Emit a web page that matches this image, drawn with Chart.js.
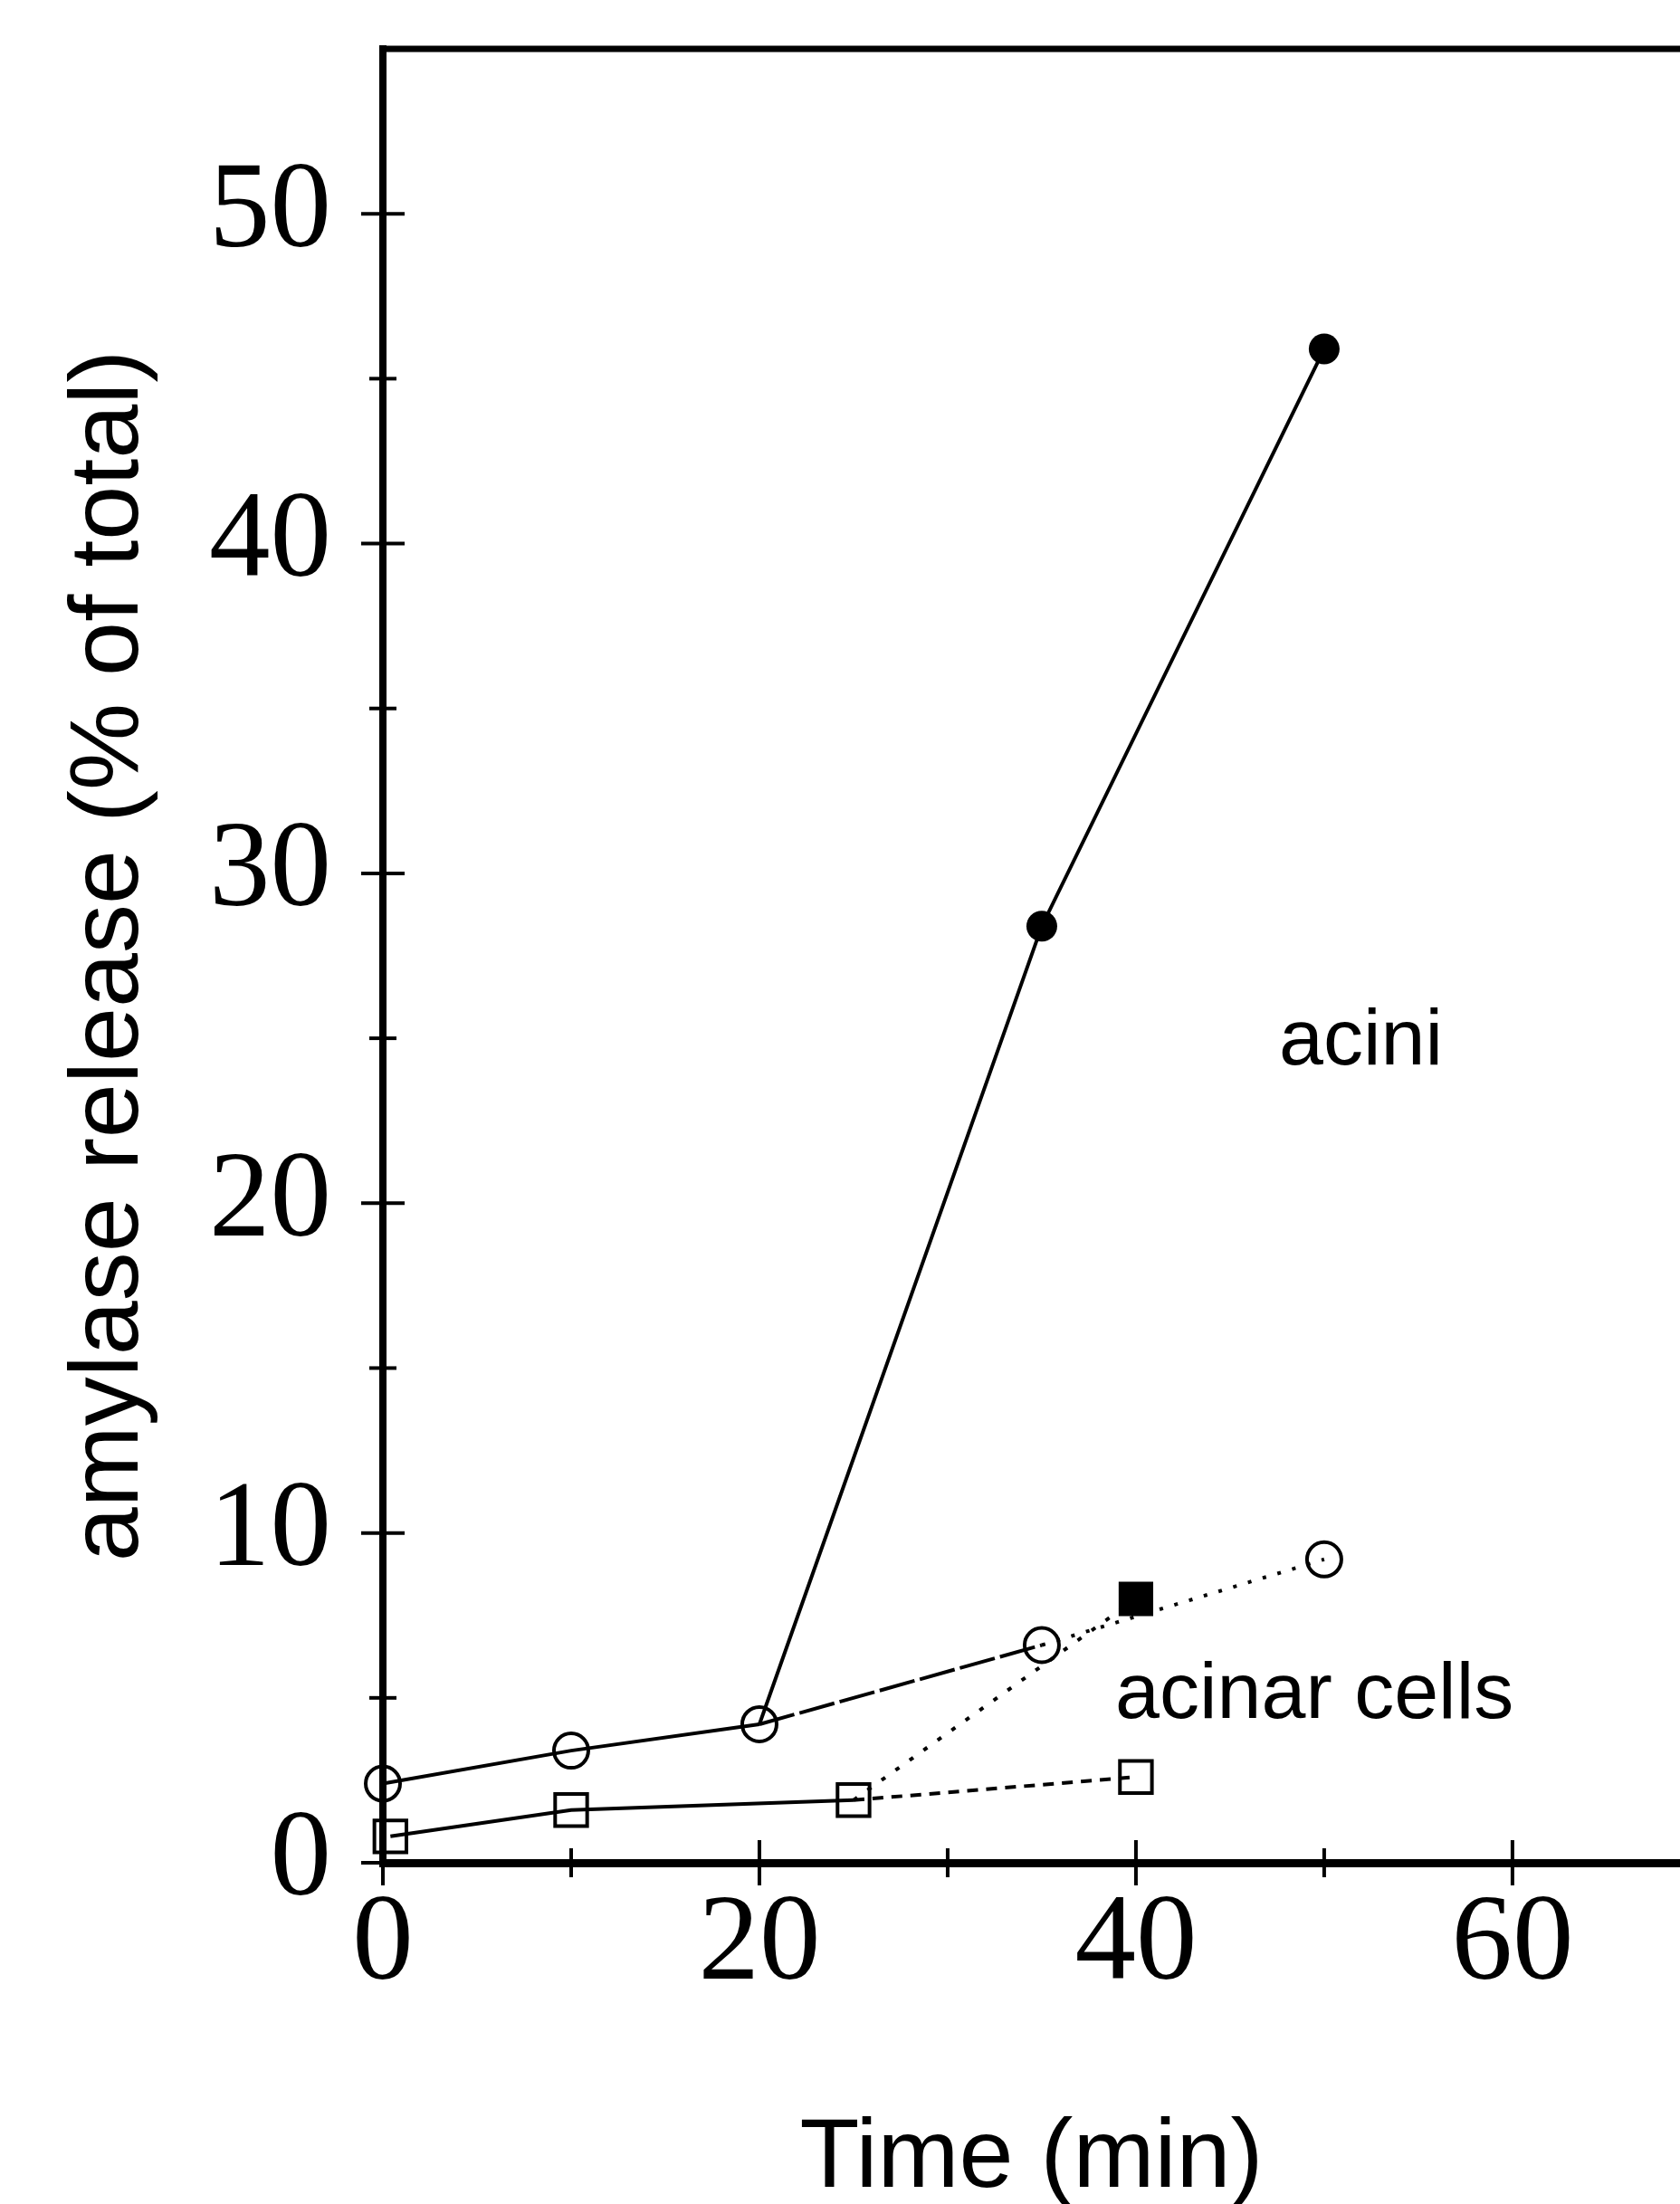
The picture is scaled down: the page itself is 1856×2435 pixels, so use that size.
<!DOCTYPE html>
<html>
<head>
<meta charset="utf-8">
<script src="https://cdn.jsdelivr.net/npm/chart.js@4.4.1/dist/chart.umd.min.js"></script>
<style>
  html, body { margin: 0; padding: 0; background: #fff; }
  canvas { display: block; }
</style>
</head>
<body>
<canvas id="amylase-chart" width="1856" height="2435"></canvas>
<script>
// acini, control (open circles)
const aciniCtrlTime = [0, 10, 20, 35, 50]
const aciniCtrl = [2.4, 3.4, 4.2, 6.6, 9.2]
// acini, stimulated (filled circles, starts from the 20 min point)
const aciniStimTime = [20, 35, 50]
const aciniStim = [4.2, 28.4, 45.9]
// acinar cells, control (open squares)
const cellsCtrlTime = [0.4, 10, 25, 40]
const cellsCtrl = [0.8, 1.6, 1.9, 2.6]
// acinar cells, stimulated (filled square)
const cellsStimTime = [25, 40]
const cellsStim = [1.9, 8.0]

const xTicks = [0, 10, 20, 30, 40, 50, 60]
const xLabels = [0, 20, 40, 60]
const yTicks = [0, 5, 10, 15, 20, 25, 30, 35, 40, 45, 50]
const yLabels = [0, 10, 20, 30, 40, 50]

const pts = (xs, ys) => xs.map((x, i) => ({x: x, y: ys[i]}))

// dash per segment
const aciniCtrlDash = [[], [], [40, 6], [4, 13]]
const cellsCtrlDash = [[], [], [12, 9]]

const crossTicks = {
    id: 'crossTicks',
    afterDraw(chart, args, opts) {
        const ctx = chart.ctx
        const area = chart.chartArea
        const sx = chart.scales.x
        const sy = chart.scales.y
        ctx.save()
        ctx.strokeStyle = '#000'
        ctx.lineWidth = 7
        ctx.beginPath()
        ctx.moveTo(area.left, area.top)
        ctx.lineTo(area.right, area.top)
        ctx.stroke()

        ctx.lineWidth = 4
        for (const v of yTicks) {
            const py = sy.getPixelForValue(v)
            const half = yLabels.includes(v) ? 24 : 15
            ctx.beginPath()
            ctx.moveTo(area.left - half, py)
            ctx.lineTo(area.left + half, py)
            ctx.stroke()
        }
        for (const v of xTicks) {
            const px = sx.getPixelForValue(v)
            const half = xLabels.includes(v) ? 25 : 16
            ctx.beginPath()
            ctx.moveTo(px, area.bottom - half)
            ctx.lineTo(px, area.bottom + half)
            ctx.stroke()
        }

        ctx.fillStyle = '#000'
        ctx.font = '88px "Liberation Sans"'
        ctx.textAlign = 'left'
        ctx.textBaseline = 'alphabetic'
        for (const n of opts.notes) {
            ctx.fillText(n.text, sx.getPixelForValue(n.x), sy.getPixelForValue(n.y))
        }
        ctx.restore()
    }
}

const data = {
    datasets: [
        {
            label: 'acini control',
            data: pts(aciniCtrlTime, aciniCtrl),
            borderColor: '#000',
            borderWidth: 4,
            pointStyle: 'circle',
            pointRadius: 19,
            pointBorderWidth: 4,
            pointBackgroundColor: 'rgba(0,0,0,0)',
            pointBorderColor: '#000',
            segment: { borderDash: c => aciniCtrlDash[c.p0DataIndex] },
            clip: false,
        },
        {
            label: 'acini stimulated',
            data: pts(aciniStimTime, aciniStim),
            borderColor: '#000',
            borderWidth: 4,
            pointStyle: 'circle',
            pointRadius: c => c.dataIndex === 0 ? 0 : 17,
            pointBorderWidth: 0,
            pointBackgroundColor: '#000',
            clip: false,
        },
        {
            label: 'acinar cells control',
            data: pts(cellsCtrlTime, cellsCtrl),
            borderColor: '#000',
            borderWidth: 4,
            pointStyle: 'rect',
            pointRadius: 25,
            pointBorderWidth: 4,
            pointBackgroundColor: 'rgba(0,0,0,0)',
            pointBorderColor: '#000',
            segment: { borderDash: c => cellsCtrlDash[c.p0DataIndex] },
            clip: false,
        },
        {
            label: 'acinar cells stimulated',
            data: pts(cellsStimTime, cellsStim),
            borderColor: '#000',
            borderWidth: 4,
            borderDash: [5, 14],
            pointStyle: 'rect',
            pointRadius: c => c.dataIndex === 0 ? 0 : 27,
            pointBorderWidth: 0,
            pointBackgroundColor: '#000',
            clip: false,
        },
    ]
}

const config = {
    type: 'line',
    data: data,
    options: {
        responsive: false,
        animation: false,
        layout: { autoPadding: false, padding: { top: 54, right: 0, bottom: 0, left: 0 } },
        plugins: {
            legend: { display: false },
            tooltip: { enabled: false },
            crossTicks: {
                notes: [
                    { text: 'acini', x: 47.6, y: 24.2 },
                    { text: 'acinar cells', x: 38.9, y: 4.4 },
                ]
            }
        },
        scales: {
            x: {
                type: 'linear',
                min: 0,
                max: 68.9,
                afterBuildTicks: s => { s.ticks = xTicks.map(v => ({value: v})) },
                afterFit: s => {
                    s.height = 377
                    s.paddingLeft = 0
                    s.paddingRight = 0
                },
                grid: { display: false, drawTicks: false },
                border: { display: true, color: '#000', width: 9 },
                ticks: {
                    color: '#000',
                    padding: 12,
                    maxRotation: 0,
                    autoSkip: false,
                    font: { family: '"Liberation Serif"', size: 135 },
                    callback: v => xLabels.includes(v) ? String(v) : ''
                },
                title: {
                    display: true,
                    text: 'Time (min)',
                    color: '#000',
                    padding: { top: 0, bottom: 0 },
                    font: { family: '"Liberation Sans"', size: 108, lineHeight: 0.9 }
                }
            },
            y: {
                min: 0,
                max: 55,
                afterBuildTicks: s => { s.ticks = yTicks.map(v => ({value: v})) },
                afterFit: s => {
                    s.width = 423
                    s.paddingTop = 0
                    s.paddingBottom = 0
                },
                grid: { display: false, drawTicks: false },
                border: { display: true, color: '#000', width: 8 },
                ticks: {
                    color: '#000',
                    padding: 57,
                    autoSkip: false,
                    font: { family: '"Liberation Serif"', size: 135 },
                    callback: v => yLabels.includes(v) ? String(v) : ''
                },
                title: {
                    display: true,
                    text: 'amylase release (% of total)',
                    color: '#000',
                    padding: { top: 57, bottom: 0 },
                    font: { family: '"Liberation Sans"', size: 108 }
                }
            }
        }
    },
    plugins: [crossTicks]
}

const chart = new Chart(document.getElementById('amylase-chart').getContext('2d'), config)
</script>
</body>
</html>
